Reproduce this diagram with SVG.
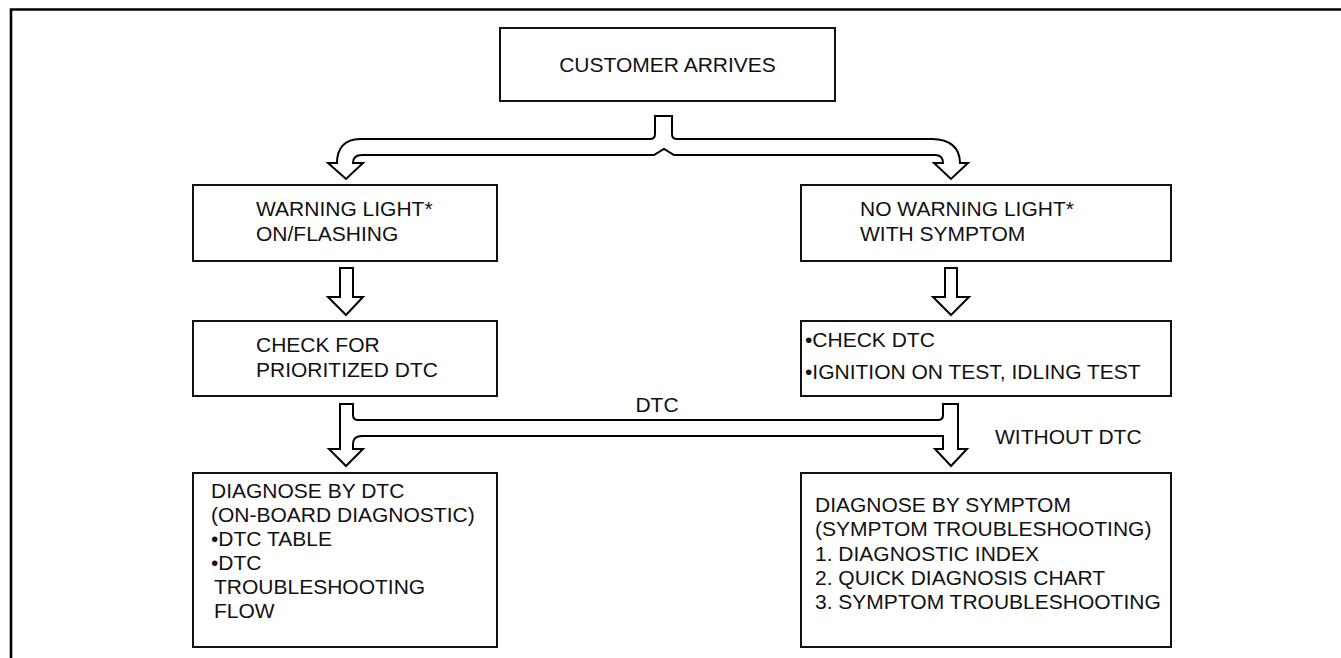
<svg xmlns="http://www.w3.org/2000/svg" width="1341" height="658" viewBox="0 0 1341 658">
<style>
.box{fill:#fff;stroke:#111;stroke-width:2}
.arr{fill:#fff;stroke:#000;stroke-width:2;stroke-linejoin:miter}
text{font-family:"Liberation Sans",Arial,Helvetica,sans-serif;font-size:21px;fill:#111}
.c{text-anchor:middle}
</style>
<rect width="1341" height="658" fill="#fff"/>
<path d="M11 658 V9.5 H1341" fill="none" stroke="#000" stroke-width="2.6"/>
<g id="connectors">
<path class="arr" d="M655 116 H672 V134 Q672 139 677 139 H932 C950 139 960 148 960 163 H968 L951 179 L934 163 H943 C943 158 940 155 935 155 H674 L664 149 L654 155 H362 C356 155 353 158 353 163 H363 L346 179 L328 163 H337 C337 148 345 139 360 139 H650 Q655 139 655 134 Z"/>
<path class="arr" d="M340 268 H353 V297 H363 L346 315 L328 297 H340 Z"/>
<path class="arr" d="M945 268 H957 V297 H969 L951 315 L933 297 H945 Z"/>
<path class="arr" d="M340 404 H353 V415 Q353 420 358 420 H938 Q943 420 943 415 V404 H958 V449 H967 L951 466 L935 449 H943 V436 H362 Q353 436 353 444 V449 H363 L346 466 L329 449 H340 Z"/>
<text class="c" x="657" y="412">DTC</text>
<text x="995" y="444">WITHOUT DTC</text>
</g>
<g id="customer">
<rect class="box" x="500" y="28" width="335" height="73"/>
<text class="c" x="667.5" y="72">CUSTOMER ARRIVES</text>
</g>
<g id="warning">
<rect class="box" x="193" y="185" width="304" height="76"/>
<text x="256" y="216">WARNING LIGHT*</text>
<text x="256" y="241">ON/FLASHING</text>
</g>
<g id="nowarning">
<rect class="box" x="801" y="185" width="370" height="76"/>
<text x="860" y="216">NO WARNING LIGHT*</text>
<text x="860" y="241">WITH SYMPTOM</text>
</g>
<g id="checkprio">
<rect class="box" x="193" y="321" width="304" height="75"/>
<text x="256" y="352">CHECK FOR</text>
<text x="256" y="377">PRIORITIZED DTC</text>
</g>
<g id="checkdtc">
<rect class="box" x="801" y="321" width="370" height="75"/>
<text x="805" y="347">•CHECK DTC</text>
<text x="805" y="379">•IGNITION ON TEST, IDLING TEST</text>
</g>
<g id="diagdtc">
<rect class="box" x="193" y="473" width="304" height="174"/>
<text x="211" y="498">DIAGNOSE BY DTC</text>
<text x="211" y="522">(ON-BOARD DIAGNOSTIC)</text>
<text x="211" y="546">•DTC TABLE</text>
<text x="211" y="570">•DTC</text>
<text x="214" y="594">TROUBLESHOOTING</text>
<text x="214" y="618">FLOW</text>
</g>
<g id="diagsym">
<rect class="box" x="801" y="473" width="370" height="174"/>
<text x="815" y="512">DIAGNOSE BY SYMPTOM</text>
<text x="815" y="536">(SYMPTOM TROUBLESHOOTING)</text>
<text x="815" y="561">1. DIAGNOSTIC INDEX</text>
<text x="815" y="585">2. QUICK DIAGNOSIS CHART</text>
<text x="815" y="609">3. SYMPTOM TROUBLESHOOTING</text>
</g>
</svg>
